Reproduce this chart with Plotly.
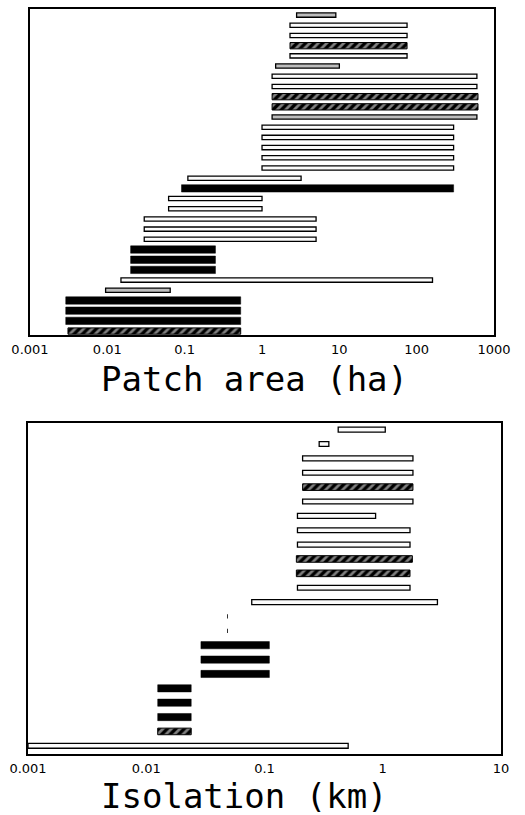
import plotly.graph_objects as go

# ---------------- Data (rows listed from top to bottom) ----------------
area_start = [2.8, 2.3, 2.3, 2.3, 2.3, 1.5, 1.35, 1.35, 1.35, 1.35, 1.35,
              1.0, 1.0, 1.0, 1.0, 1.0, 0.11, 0.091, 0.062, 0.062,
              0.03, 0.03, 0.03, 0.02, 0.02, 0.02, 0.015, 0.0095,
              0.0029, 0.0029, 0.0029, 0.0031]
area_end = [9, 75, 75, 75, 75, 10, 600, 600, 620, 620, 600,
            300, 300, 300, 300, 300, 3.2, 300, 1.0, 1.0,
            5, 5, 5, 0.25, 0.25, 0.25, 160, 0.065,
            0.53, 0.53, 0.53, 0.53]
area_style = ["gray", "white", "white", "hatched", "white", "gray", "white", "white",
              "hatched", "hatched", "gray", "white", "white", "white", "white", "white",
              "white", "black", "white", "white", "white", "white", "white",
              "black", "black", "black", "white", "gray",
              "black", "black", "black", "hatched"]

iso_start = [0.42, 0.29, 0.21, 0.21, 0.21, 0.21, 0.19, 0.19, 0.19, 0.186, 0.186,
             0.19, 0.078, 0.0482, 0.0482, 0.029, 0.029, 0.029,
             0.0125, 0.0125, 0.0125, 0.0125, 0.001]
iso_end = [1.05, 0.35, 1.8, 1.8, 1.8, 1.8, 0.87, 1.7, 1.7, 1.78, 1.7,
           1.7, 2.9, 0.049, 0.049, 0.11, 0.11, 0.11,
           0.024, 0.024, 0.024, 0.024, 0.51]
iso_style = ["white", "white", "white", "white", "hatched", "white", "white", "white",
             "white", "hatched", "hatched", "white", "white", "tick", "tick",
             "black", "black", "black", "black", "black", "black", "hatched", "white"]

area_ticks = [0.001, 0.01, 0.1, 1, 10, 100, 1000]
area_ticktext = ["0.001", "0.01", "0.1", "1", "10", "100", "1000"]
iso_ticks = [0.001, 0.01, 0.1, 1, 10]
iso_ticktext = ["0.001", "0.01", "0.1", "1", "10"]

# ---------------- Styles ----------------
STY_TOP = {
    "white": dict(width=0.42, fill="#fbfbfb", lw=1.3),
    "gray": dict(width=0.42, fill="#bdbdbd", lw=1.3),
    "black": dict(width=0.72, fill="black", lw=0.5),
    "hatched": dict(width=0.62, fill="black", lw=1.0),
}
STY_BOT = {
    "white": dict(width=0.34, fill="#fbfbfb", lw=1.3),
    "gray": dict(width=0.34, fill="#bdbdbd", lw=1.3),
    "black": dict(width=0.5, fill="black", lw=0.5),
    "hatched": dict(width=0.46, fill="black", lw=1.0),
    "tick": dict(width=0.3, fill="#333333", lw=0),
}

fig = go.Figure()


def add_bars(starts, ends, styles, sty, xa, ya):
    for name, s in sty.items():
        idx = [i for i, st in enumerate(styles) if st == name]
        if not idx:
            continue
        marker = dict(color=s["fill"], line=dict(color="black", width=s["lw"]))
        if name == "hatched":
            marker["pattern"] = dict(shape="/", fgcolor="white", size=6,
                                     solidity=0.45, fillmode="overlay")
        fig.add_trace(go.Bar(
            orientation="h",
            y=idx,
            x=[ends[i] - starts[i] for i in idx],
            base=[starts[i] for i in idx],
            width=s["width"],
            marker=marker,
            xaxis=xa, yaxis=ya,
            showlegend=False,
            hoverinfo="skip",
        ))


add_bars(area_start, area_end, area_style, STY_TOP, "x", "y")
add_bars(iso_start, iso_end, iso_style, STY_BOT, "x2", "y2")

W, H = 525, 815
ML, MR, MT, MB = 28, 20, 7, 61
PW = W - ML - MR
PH = H - MT - MB


def px_x(p):
    return (p - ML) / PW


def px_y(p):
    return (H - MB - p) / PH


axis_common = dict(showline=True, linecolor="black", linewidth=1.5, mirror=True,
                   showgrid=False, zeroline=False, ticks="")
tickfont = dict(family="DejaVu Sans", size=13, color="black")

fig.update_layout(
    width=W, height=H,
    margin=dict(l=ML, r=MR, t=MT, b=MB),
    paper_bgcolor="white", plot_bgcolor="white",
    barmode="overlay",
    xaxis=dict(type="log", range=[-3, 3], domain=[px_x(30), px_x(498)],
               anchor="y", tickvals=area_ticks, ticktext=area_ticktext,
               tickfont=tickfont, ticklabelstandoff=2, **axis_common),
    yaxis=dict(range=[31.4, -0.6], domain=[px_y(334), 1.0], anchor="x",
               showticklabels=False, **axis_common),
    xaxis2=dict(type="log", range=[-3, 1], domain=[0, 1],
                anchor="y2", tickvals=iso_ticks, ticktext=iso_ticktext,
                tickfont=tickfont, ticklabelstandoff=2, **axis_common),
    yaxis2=dict(range=[22.57, -0.49], domain=[0, px_y(421.7)], anchor="x2",
                showticklabels=False, **axis_common),
    annotations=[
        dict(text="Patch area (ha)", xref="paper", yref="paper",
             x=px_x(256), y=px_y(378), xanchor="center", yanchor="middle",
             showarrow=False,
             font=dict(family="DejaVu Sans Mono", size=34, color="black")),
        dict(text="Isolation (km)", xref="paper", yref="paper",
             x=px_x(246), y=px_y(796), xanchor="center", yanchor="middle",
             showarrow=False,
             font=dict(family="DejaVu Sans Mono", size=34, color="black")),
    ],
)

fig.write_html(
    "out.html",
    config={"displayModeBar": False},
    post_script="document.body.style.margin='0';document.body.style.padding='0';"
                "document.body.style.overflow='hidden';",
)
